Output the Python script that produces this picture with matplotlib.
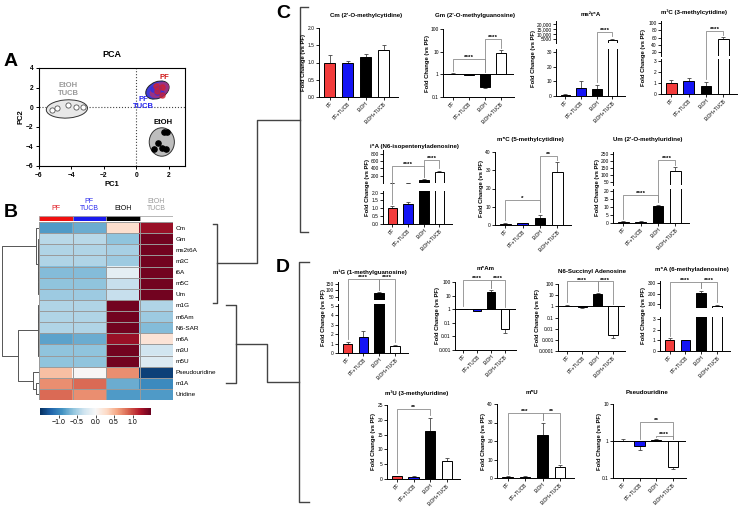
import matplotlib
matplotlib.use('Agg')
import matplotlib.pyplot as plt
from matplotlib.patches import Ellipse
from matplotlib.lines import Line2D
from matplotlib.ticker import NullLocator
import numpy as np

plt.rcParams['font.family'] = ['Liberation Sans', 'DejaVu Sans']

W, H = 739, 516

# ---------------- data ----------------
groups = ['PF', 'PF+TUCB', 'EtOH', 'EtOH+TUCB']
bar_colors = ['#f23c3c', '#1414f5', '#000000', '#ffffff']

# PCA scores
pf_x = [1.2, 1.57, 1.57, 1.26]
pf_y = [2.16, 2.06, 1.24, 1.65]
pftucb_x = [1.05, 1.35, 1.5, 1.3]
pftucb_y = [1.9, 2.0, 1.4, 1.6]
etoh_x = [1.69, 1.88, 1.32, 1.08, 1.57, 1.82]
etoh_y = [-2.53, -2.53, -3.65, -4.27, -4.16, -4.27]
etohtucb_x = [-5.2, -4.9, -4.2, -3.75, -3.3]
etohtucb_y = [-0.29, -0.08, 0.22, 0.0, 0.0]

# heatmap (row z-scores)
hm_rows = ['Cm', 'Gm', 'ms2t6A', 'm3C', 'i6A', 'm5C', 'Um', 'm1G', 'm6Am', 'N6-SAR',
           'm6A', 'm3U', 'm5U', 'Pseudouridine', 'm1A', 'Uridine']
hm_pf = [-0.85, -0.42, -0.45, -0.45, -0.65, -0.6, -0.55, -0.45, -0.45, -0.45,
         -0.8, -0.6, -0.6, 0.45, 0.7, 0.85]
hm_pftucb = [-0.75, -0.42, -0.45, -0.45, -0.65, -0.6, -0.55, -0.45, -0.45, -0.45,
             -0.75, -0.6, -0.6, 0.0, 0.85, 0.7]
hm_etoh = [0.25, -0.6, -0.5, -0.55, -0.15, -0.35, -0.35, 1.45, 1.45, 1.45,
           1.3, 1.45, 1.45, 0.7, -0.75, -0.85]
hm_etohtucb = [1.3, 1.45, 1.45, 1.45, 1.45, 1.45, 1.45, -0.45, -0.55, -0.65,
               0.2, -0.3, -0.2, -1.4, -0.95, -0.85]
hm_cols = ['PF', 'PF\nTUCB', 'EtOH', 'EtOH\nTUCB']
hm_col_colors = ['#f01010', '#1a1aee', '#000000', '#ffffff']
hm_col_text = ['#e0141c', '#2a2aee', '#000000', '#9a9a9a']
# row dendrogram: (height, left, right), leaves are row indices
row_tree = (1.0,
            (0.08, 0, (0.04, (0.03, 1, (0.02, 2, 3)), (0.03, 4, (0.02, 5, 6)))),
            (0.57,
             (0.03, (0.02, 7, (0.01, 8, 9)), (0.02, 10, (0.01, 11, 12))),
             (0.16, 13, (0.07, 14, 15))))

# fold change bars (mean, sem) and significance (i, j, y, label)
cm_vals = [1.0, 1.0, 1.17, 1.37]
cm_err = [0.22, 0.03, 0.08, 0.13]
gm_vals = [1.05, 0.95, 0.27, 9.0]
gm_err = [0.04, 0.03, 0.03, 2.5]
gm_sig = [(0, 2, 4.6, '****'), (2, 3, 35, '****')]
ms2_vals = [0.8, 5.5, 4.5, 4000]
ms2_err = [0.4, 4.5, 3.0, 1500]
ms2_sig = [(2, 3, 12000, '****')]
m3c_vals = [1.0, 1.15, 0.75, 55]
m3c_err = [0.3, 0.3, 0.35, 6]
m3c_sig = [(2, 3, 78, '****')]
i6a_vals = [1.0, 1.25, 90, 300]
i6a_err = [0.12, 0.12, 10, 40]
i6a_sig = [(0, 2, 460, '****'), (2, 3, 630, '****')]
m5c_vals = [0.8, 1.0, 4.0, 29]
m5c_err = [0.4, 0.3, 1.5, 5.5]
m5c_sig = [(0, 2, 13.5, '*'), (2, 3, 38, '**')]
um_vals = [0.8, 0.8, 10.5, 130]
um_err = [0.3, 0.2, 1.0, 25]
um_sig = [(0, 2, 17.5, '****'), (2, 3, 207, '****')]
m1g_vals = [1.0, 1.65, 80, 0.75]
m1g_err = [0.2, 0.7, 8, 0.1]
m1g_sig = [(0, 2, 188, '****'), (2, 3, 188, '****')]
m6am_vals = [1.05, 0.75, 20, 0.034]
m6am_err = [0.05, 0.05, 5, 0.015]
m6am_sig = [(0, 2, 140, '****'), (2, 3, 140, '****')]
n6_vals = [1.1, 0.8, 12, 0.0025]
n6_err = [0.3, 0.05, 3, 0.001]
n6_sig = [(0, 2, 168, '****'), (2, 3, 168, '****')]
m6a_vals = [1.0, 1.0, 205, 85]
m6a_err = [0.2, 0.05, 20, 10]
m6a_sig = [(0, 2, 310, '****'), (2, 3, 310, '****')]
m3u_vals = [0.9, 0.8, 16.2, 6.0]
m3u_err = [0.15, 0.15, 4.5, 1.0]
m3u_sig = [(0, 2, 23.6, '**')]
m5u_vals = [0.8, 0.8, 23.5, 6.0]
m5u_err = [0.2, 0.2, 6.5, 1.0]
m5u_sig = [(0, 2, 35, '***'), (2, 3, 35, '**')]
psi_vals = [1.0, 0.75, 1.08, 0.2]
psi_err = [0.15, 0.17, 0.05, 0.03]
psi_sig = [(1, 3, 3.27, '**'), (2, 3, 1.37, '****')]

# ---------------- helpers ----------------
fig = plt.figure(figsize=(W / 100, H / 100), dpi=100)


def px_rect(l, t, r, b):
    return [l / W, 1 - b / H, (r - l) / W, (b - t) / H]


def fig_line(xs, ys, color='#444444', lw=1.0):
    fig.add_artist(Line2D([x / W for x in xs], [1 - y / H for y in ys],
                          transform=fig.transFigure, color=color, lw=lw))


def bar_panel(left, right, segs, title, title_y, vals, errs, sigs=(), log=False,
              yl_off=16, title_dx=-3):
    x = np.arange(len(groups))
    base = 1.0 if log else 0.0
    v = np.array(vals, float)
    up = [e if a >= base else 0 for a, e in zip(vals, errs)]
    dn = [e if a < base else 0 for a, e in zip(vals, errs)]
    axes = []
    for k, (top, bot, ylim, ticks, labels) in enumerate(segs):
        ax = fig.add_axes(px_rect(left, top, right, bot))
        if log:
            ax.set_yscale('log')
        ax.bar(x, v - base, bottom=base, width=0.62, color=bar_colors,
               edgecolor='black', linewidth=0.7, zorder=2)
        ax.errorbar(x, v, yerr=[dn, up], fmt='none', ecolor='#444444',
                    elinewidth=0.6, capsize=1.3, capthick=0.6, zorder=1)
        if log:
            ax.axhline(1, color='black', lw=0.7, zorder=3)
        ax.set_xlim(-0.6, 3.8)
        ax.set_ylim(ylim)
        ax.set_yticks(ticks)
        ax.set_yticklabels(labels)
        ax.yaxis.set_minor_locator(NullLocator())
        for s in ('top', 'right'):
            ax.spines[s].set_visible(False)
        for s in ('left', 'bottom'):
            ax.spines[s].set_linewidth(0.7)
        ax.tick_params(axis='both', labelsize=3.5, length=2, width=0.6, pad=1)
        if k < len(segs) - 1:
            ax.spines['bottom'].set_visible(False)
            ax.set_xticks([])
        else:
            ax.set_xticks(x)
            ax.set_xticklabels(groups, rotation=45, ha='right', rotation_mode='anchor')
        axes.append(ax)
    inv = fig.transFigure.inverted()

    def fy(val):
        for ax in axes:
            if val >= ax.get_ylim()[0]:
                return inv.transform(ax.transData.transform((0, val)))[1]
        return inv.transform(axes[-1].transData.transform((0, val)))[1]

    def fx(i):
        return inv.transform(axes[-1].transData.transform((i, 1)))[0]

    for i, j, yv, lab in sigs:
        yl = fy(yv)
        legs = []
        for b in (i, j):
            tip = vals[b] + errs[b] if vals[b] >= base else base
            y0 = fy(tip) + 2.5 / H
            legs.append(min(y0, yl - 1.5 / H))
        fig.add_artist(Line2D([fx(i), fx(i), fx(j), fx(j)], [legs[0], yl, yl, legs[1]],
                              transform=fig.transFigure, color='#8c8c8c', lw=0.6))
        fig.text((fx(i) + fx(j)) / 2, yl - 1.0 / H, lab, ha='center', va='bottom',
                 fontsize=4.6, fontweight='bold')
    top_px = segs[0][0]
    bot_px = segs[-1][1]
    fig.text((left - yl_off) / W, 1 - (top_px + bot_px) / 2 / H, 'Fold Change (vs PF)',
             rotation=90, ha='center', va='center', fontsize=4.2, fontweight='bold')
    fig.text(((left + right) / 2 + title_dx) / W, 1 - title_y / H, title, ha='center',
             va='center', fontsize=4.4, fontweight='bold')
    return axes


# ---------------- panel A: PCA ----------------
ax = fig.add_axes(px_rect(39, 68, 185, 166))
ax.add_patch(Ellipse((-4.28, -0.18), 2.55, 1.85, angle=8, facecolor='#e8e8e8',
                     edgecolor='#333333', lw=0.7, zorder=1))
ax.add_patch(Ellipse((1.57, -3.55), 1.55, 2.9, angle=0, facecolor='#bdbdbd',
                     edgecolor='#333333', lw=0.7, zorder=1))
ax.add_patch(Ellipse((1.3, 1.75), 1.3, 1.95, angle=-25, facecolor='#3d3ad8',
                     edgecolor='#222222', lw=0.7, zorder=1))
ax.add_patch(Ellipse((1.42, 1.75), 1.05, 1.75, angle=-25, facecolor='#b0306e',
                     edgecolor='none', alpha=0.8, zorder=1))
ax.scatter(etohtucb_x, etohtucb_y, s=14, facecolor='white', edgecolor='#555555', lw=0.6, zorder=3)
ax.scatter(etoh_x, etoh_y, s=14, color='black', zorder=3)
ax.scatter(pftucb_x, pftucb_y, s=14, color='#3030e0', alpha=0.8, zorder=3)
ax.scatter(pf_x, pf_y, s=14, color='#d02030', alpha=0.7, zorder=4)
ax.axhline(0, color='#444444', ls=':', lw=0.8, zorder=0)
ax.axvline(0, color='#444444', ls=':', lw=0.8, zorder=0)
ax.text(-4.2, 1.8, 'EtOH\nTUCB', color='#999999', fontsize=5.5, fontweight='bold',
        ha='center', va='center', linespacing=1.1)
ax.text(1.7, 3.05, 'PF', color='#d01818', fontsize=5.5, fontweight='bold', ha='center', va='center')
ax.text(0.45, 0.45, 'PF\nTUCB', color='#2525ee', fontsize=5.5, fontweight='bold',
        ha='center', va='center', linespacing=1.1)
ax.text(1.65, -1.6, 'EtOH', color='black', fontsize=5.5, fontweight='bold', ha='center', va='center')
ax.set_xlim(-6, 3)
ax.set_ylim(-6, 4)
ax.set_xticks([-6, -4, -2, 0, 2])
ax.set_yticks([-6, -4, -2, 0, 2, 4])
ax.tick_params(labelsize=4.8, length=2.5, width=0.7, pad=1.5)
for t in ax.get_xticklabels() + ax.get_yticklabels():
    t.set_fontweight('bold')
for s in ax.spines.values():
    s.set_linewidth(0.8)
ax.set_xlabel('PC1', fontsize=5.5, fontweight='bold', labelpad=2)
ax.set_ylabel('PC2', fontsize=5.5, fontweight='bold', labelpad=1)
ax.set_title('PCA', fontsize=6.5, fontweight='bold', pad=8)

# ---------------- panel B: heatmap ----------------
hm = np.array([hm_pf, hm_pftucb, hm_etoh, hm_etohtucb]).T
axh = fig.add_axes(px_rect(39, 222, 173, 400))
im = axh.imshow(hm, cmap='RdBu_r', vmin=-1.5, vmax=1.5, aspect='auto', interpolation='nearest')
axh.set_xticks(np.arange(-0.5, 4, 1), minor=True)
axh.set_yticks(np.arange(-0.5, len(hm_rows), 1), minor=True)
axh.grid(which='minor', color='#9a9a9a', lw=0.7)
axh.tick_params(which='both', length=0)
axh.set_xticks([])
axh.set_yticks(range(len(hm_rows)))
axh.set_yticklabels(hm_rows, fontsize=4.6)
axh.yaxis.tick_right()
axh.tick_params(axis='y', pad=2)
for s in axh.spines.values():
    s.set_visible(False)

axa = fig.add_axes(px_rect(39, 215.5, 173, 220.5))
axa.bar(range(4), [1] * 4, width=1, color=hm_col_colors, edgecolor='#9a9a9a', lw=0.5)
axa.set_xlim(-0.5, 3.5)
axa.set_ylim(0, 1)
axa.axis('off')
for k, (lab, c) in enumerate(zip(hm_cols, hm_col_text)):
    fig.text((39 + (k + 0.5) * 33.5) / W, 1 - 212 / H, lab, color=c, fontsize=5,
             ha='center', va='bottom', linespacing=1.1)

axd = fig.add_axes(px_rect(0, 222, 39, 400))


def draw_tree(node):
    if isinstance(node, int):
        return node, 0.0
    h, a, b = node
    ya, ha = draw_tree(a)
    yb, hb = draw_tree(b)
    axd.plot([ha, h, h, hb], [ya, ya, yb, yb], color='#555555', lw=0.7)
    return (ya + yb) / 2, h


draw_tree(row_tree)
axd.set_xlim(1.05, 0)
axd.set_ylim(len(hm_rows) - 0.5, -0.5)
axd.axis('off')

cax = fig.add_axes(px_rect(40, 408, 151, 415))
cb = fig.colorbar(im, cax=cax, orientation='horizontal', ticks=[-1, -0.5, 0, 0.5, 1])
cb.outline.set_visible(False)
cb.ax.tick_params(labelsize=5, length=2, width=0.5, pad=1)

# ---------------- panel C ----------------
bar_panel(319, 398, [(28, 97, (0, 2.0), [0, 0.5, 1, 1.5, 2], ['0.0', '0.5', '1.0', '1.5', '2.0'])],
          "Cm (2'-O-methylcytidine)", 15, cm_vals, cm_err, yl_off=15, title_dx=8)
bar_panel(443, 514, [(29, 97, (0.1, 100), [0.1, 1, 10, 100], ['0.1', '1', '10', '100'])],
          "Gm (2'-O-methylguanosine)", 15, gm_vals, gm_err, gm_sig, log=True, yl_off=15)
bar_panel(556, 625, [(21, 43, (1000, 23000), [5000, 10000, 15000, 20000],
                      ['5000', '10,000', '15,000', '20,000']),
                     (49, 96, (0, 32), [0, 10, 20, 30], ['0', '10', '20', '30'])],
          'ms²t⁶A', 15, ms2_vals, ms2_err, ms2_sig, yl_off=22, title_dx=0)
bar_panel(661, 737, [(21, 56, (9, 105.5), [20, 40, 60, 80, 100], ['20', '40', '60', '80', '100']),
                     (59, 94, (0, 3.18), [0, 1, 2, 3], ['0', '1', '2', '3'])],
          'm³C (3-methylcytidine)', 12, m3c_vals, m3c_err, m3c_sig, yl_off=18, title_dx=-5)
bar_panel(383, 452, [(150, 183, (5, 900), [200, 400, 600, 800], ['200', '400', '600', '800']),
                     (191, 224, (0, 2.1), [0, 0.5, 1, 1.5, 2], ['0.0', '0.5', '1.0', '1.5', '2.0'])],
          'i⁶A (N6-isopentenyladenosine)', 146, i6a_vals, i6a_err, i6a_sig, yl_off=15)
bar_panel(495, 571, [(152, 225, (0, 40), [0, 10, 20, 30, 40], ['0', '10', '20', '30', '40'])],
          'm⁵C (5-methylcytidine)', 140, m5c_vals, m5c_err, m5c_sig, yl_off=14)
bar_panel(613, 689, [(152, 185, (28.6, 264), [50, 100, 150, 200, 250], ['50', '100', '150', '200', '250']),
                     (189, 223, (0, 21.25), [0, 5, 10, 15, 20], ['0', '5', '10', '15', '20'])],
          "Um (2'-O-methyluridine)", 140, um_vals, um_err, um_sig, yl_off=16)

# ---------------- panel D ----------------
bar_panel(338, 408, [(282, 300, (27, 165), [50, 100, 150], ['50', '100', '150']),
                     (304, 353, (0, 5.2), [0, 1, 2, 3, 4, 5], ['0', '1', '2', '3', '4', '5'])],
          'm¹G (1-methylguanosine)', 272, m1g_vals, m1g_err, m1g_sig, yl_off=15)
bar_panel(455, 516, [(282, 350, (0.001, 100), [0.001, 0.01, 0.1, 1, 10, 100],
                      ['0.001', '0.01', '0.1', '1', '10', '100'])],
          'm⁶Am', 269, m6am_vals, m6am_err, m6am_sig, log=True, yl_off=17, title_dx=0)
bar_panel(558, 625, [(284, 351, (1e-4, 100), [1e-4, 1e-3, 0.01, 0.1, 1, 10, 100],
                      ['0.0001', '0.001', '0.01', '0.1', '1', '10', '100'])],
          'N6-Succinyl Adenosine', 272, n6_vals, n6_err, n6_sig, log=True, yl_off=20, title_dx=0)
bar_panel(660, 730, [(281, 308, (62, 319), [100, 200, 300], ['100', '200', '300']),
                     (317, 351, (0, 3.19), [0, 1, 2, 3], ['0', '1', '2', '3'])],
          'm⁶A (6-methyladenosine)', 270, m6a_vals, m6a_err, m6a_sig, yl_off=17)
bar_panel(387, 460, [(405, 479, (0, 25), [0, 5, 10, 15, 20, 25], ['0', '5', '10', '15', '20', '25'])],
          'm³U (3-methyluridine)', 393, m3u_vals, m3u_err, m3u_sig, yl_off=14, title_dx=-7)
bar_panel(497, 574, [(404, 478, (0, 40), [0, 10, 20, 30, 40], ['0', '10', '20', '30', '40'])],
          'm⁵U', 393, m5u_vals, m5u_err, m5u_sig, yl_off=14, title_dx=-4)
bar_panel(613, 686, [(404, 478, (0.1, 10), [0.1, 1, 10], ['0.1', '1', '10'])],
          'Pseudouridine', 393, psi_vals, psi_err, psi_sig, log=True, yl_off=13, title_dx=-2)

# ---------------- cluster brackets ----------------
fig_line([213, 217, 217, 213], [224, 224, 303, 303])
fig_line([217, 257, 257, 300], [263, 263, 120, 120])
fig_line([308, 300, 300, 308], [7, 7, 232, 232])
fig_line([226, 236, 236, 226], [305, 305, 383, 383])
fig_line([236, 267, 267, 299], [344, 344, 382, 382])
fig_line([309, 299, 299, 309], [262, 262, 502, 502])

# panel letters
for lab, xx, yy in [('A', 11, 62), ('B', 11, 212), ('C', 283, 14), ('D', 283, 267)]:
    fig.text(xx / W, 1 - yy / H, lab, fontsize=14, fontweight='bold', ha='center', va='center')

fig.savefig('out.png', dpi=100)
